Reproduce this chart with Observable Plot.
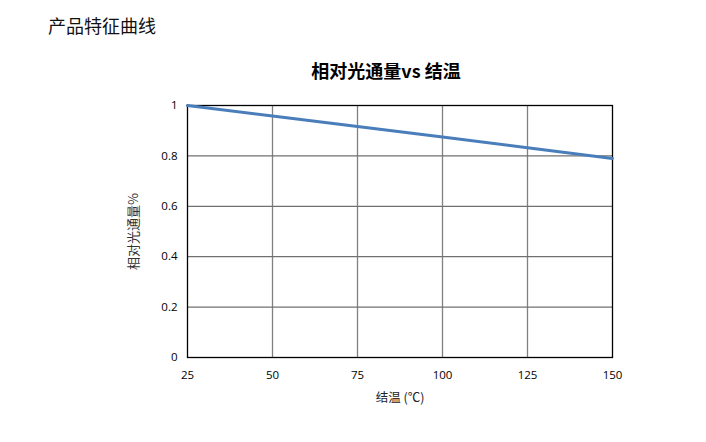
<!DOCTYPE html>
<html><head><meta charset="utf-8">
<script src="https://cdn.jsdelivr.net/npm/d3@7"></script>
<script src="https://cdn.jsdelivr.net/npm/@observablehq/plot@0.6"></script>
<style>
body{margin:0;background:#fff;width:706px;height:442px;position:relative;overflow:hidden;font-family:"Noto Sans CJK SC","Noto Sans",sans-serif;}
#hdr{position:absolute;left:48px;top:12px;font-size:18px;color:#111;line-height:26px;}
#ttl{position:absolute;left:0;width:772px;top:57px;text-align:center;font-size:18px;font-weight:bold;color:#000;line-height:26px;}
#chart{position:absolute;left:0;top:90px;}
</style></head><body>
<div id="hdr">产品特征曲线</div>
<div id="ttl">相对光通量vs 结温</div>
<div id="chart"></div>
<script>
const temps = [25, 50, 75, 100, 125, 150];
const flux = [1.0, 0.958, 0.917, 0.875, 0.832, 0.79];
const xTicks = [25, 50, 75, 100, 125, 150];
const yTicks = [0, 0.2, 0.4, 0.6, 0.8, 1];
const xLabel = "结温 (℃)";
const yLabel = "相对光通量%";

const data = temps.map((t, i) => ({t, v: flux[i]}));
const fontFam = "'Open Sans','Noto Sans CJK SC',sans-serif";

const plot = Plot.plot({
  width: 706, height: 330,
  marginLeft: 187, marginRight: 94, marginTop: 15, marginBottom: 63,
  style: {fontFamily: fontFam, fontSize: "11px", color: "#000", background: "#fff"},
  x: {domain: [25, 150], ticks: xTicks},
  y: {domain: [0, 1], ticks: yTicks},
  marks: [
    Plot.ruleX(xTicks.slice(1, -1), {stroke: "#808080", strokeWidth: 1.3}),
    Plot.ruleY(yTicks.slice(1, -1), {stroke: "#707070", strokeWidth: 1.3}),
    Plot.frame({stroke: "#000", strokeWidth: 1.3}),
    Plot.axisX(xTicks, {tickSize: 0, tickPadding: 13, fontSize: 11.5, label: null}),
    Plot.axisY(yTicks, {tickSize: 0, tickPadding: 10, fontSize: 11.5, label: null, tickFormat: d => String(+d.toFixed(1))}),
    Plot.text([xLabel], {x: 87.5, y: 0, dy: 40, frameAnchor: "bottom", text: d => d, fontSize: 12.5, fill: "#222", fontFamily: "'Noto Sans CJK SC',sans-serif", lineAnchor: "middle"}),
    Plot.text([yLabel], {frameAnchor: "left", dx: -54, rotate: -90, textAnchor: "middle", text: d => d, fontSize: 13, fill: "#333", fontFamily: "'Noto Sans CJK SC',sans-serif"}),
    Plot.line(data, {x: "t", y: "v", stroke: "#4a7ebb", strokeWidth: 3})
  ]
});
document.getElementById("chart").appendChild(plot);
</script>
</body></html>
